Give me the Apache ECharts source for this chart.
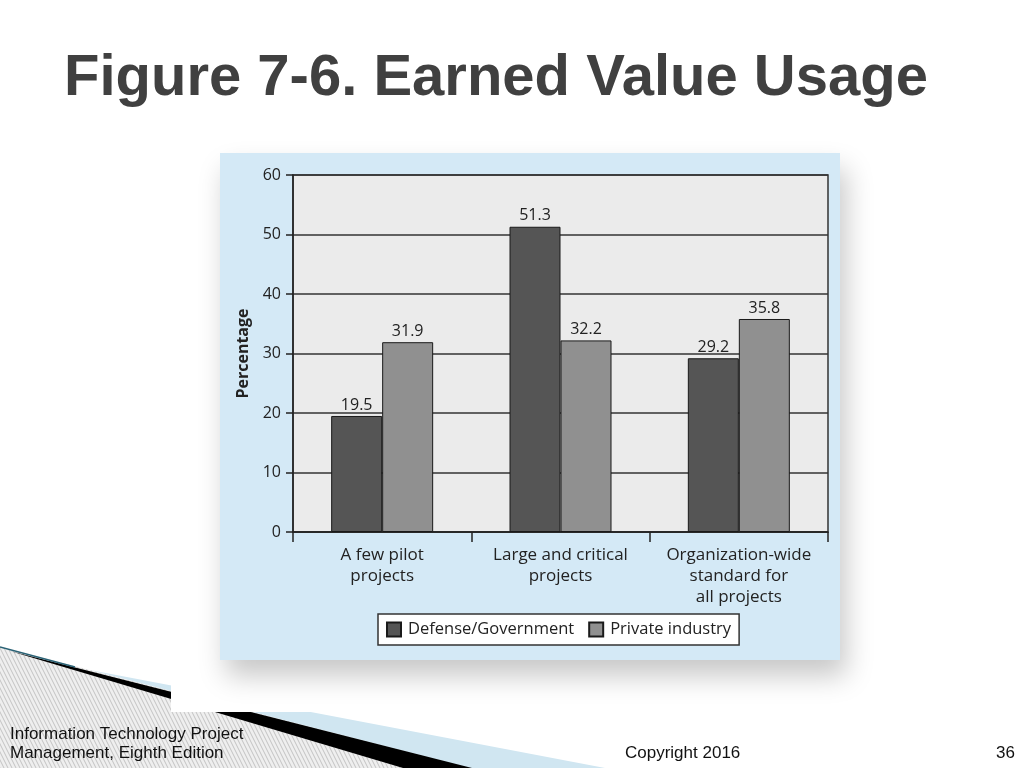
<!DOCTYPE html>
<html>
<head>
<meta charset="utf-8">
<title>Figure 7-6. Earned Value Usage</title>
<script src="https://cdn.jsdelivr.net/npm/echarts@6/dist/echarts.min.js"></script>
<style>
  html, body { margin: 0; padding: 0; background: #fff; }
  #chart { width: 1024px; height: 768px; }
</style>
</head>
<body>
<div id="chart"></div>
<script>
// 数据
var categories = ['A few pilot\nprojects', 'Large and critical\nprojects', 'Organization-wide\nstandard for\nall projects'];
var defenseGov = [19.5, 51.3, 29.2];
var privateIndustry = [31.9, 32.2, 35.8];
var seriesNames = ['Defense/Government', 'Private industry'];
var yTicks = { min: 0, max: 60, interval: 10 };

var chartFont = '"Open Sans", "Noto Sans", sans-serif';
var slideFont = '"Liberation Sans", Arial, sans-serif';

//斜线底纹
function hatch() {
	var c = document.createElement('canvas');
	c.width = 4; c.height = 8;
	var ctx = c.getContext('2d');
	ctx.fillStyle = '#efefef';
	ctx.fillRect(0, 0, 4, 8);
	ctx.strokeStyle = '#bdbdbd';
	ctx.lineWidth = 0.9;
	ctx.beginPath();
	ctx.moveTo(0, 0); ctx.lineTo(4, 8);
	ctx.moveTo(-4, 0); ctx.lineTo(0, 8);
	ctx.moveTo(4, 0); ctx.lineTo(8, 8);
	ctx.stroke();
	return c;
}

var chart = echarts.init(document.getElementById('chart'));

chart.setOption({
	animation: false,
	backgroundColor: '#ffffff',
	title: {
		text: 'Figure 7-6. Earned Value Usage',
		left: 59,
		top: 45,
		textStyle: { fontFamily: slideFont, fontSize: 58, fontWeight: 'bold', color: '#404040' }
	},
	graphic: [
		//左下角装饰
		{ type: 'polygon', z: -10, shape: { points: [[0, 647], [472, 768], [0, 768]] },
			style: { fill: { image: hatch(), repeat: 'repeat' } } },
		{ type: 'polygon', z: -9, shape: { points: [[90, 670], [605, 768], [470, 768]] },
			style: { fill: '#d0e6f1' } },
		{ type: 'polygon', z: -8, shape: { points: [[10, 651], [472, 768], [403, 768]] },
			style: { fill: '#000' } },
		{ type: 'polyline', z: -7, shape: { points: [[0, 647], [75, 667]] },
			style: { stroke: '#2a6275', lineWidth: 1.5 } },
		//图片白底
		{ type: 'rect', z: -6, shape: { x: 171, y: 140, width: 700, height: 572 },
			style: { fill: '#fff' } },
		//蓝色面板
		{ type: 'rect', z: -5, shape: { x: 220, y: 153, width: 620, height: 507 },
			style: { fill: '#d4e9f6', shadowBlur: 26, shadowOffsetY: 16, shadowOffsetX: 6, shadowColor: 'rgba(0,0,0,0.22)' } },
		//页脚
		{ type: 'text', left: 10, top: 725, style: { text: 'Information Technology Project\nManagement, Eighth Edition',
			font: '17px ' + slideFont, fill: '#111', lineHeight: 19 } },
		{ type: 'text', left: 625, top: 745, style: { text: 'Copyright 2016', font: '17px ' + slideFont, fill: '#111' } },
		{ type: 'text', right: 9, top: 745, style: { text: '36', font: '17px ' + slideFont, fill: '#111' } }
	],
	grid: {
		left: 293, top: 175, right: 196, bottom: 236,
		show: true, backgroundColor: '#ebebeb', borderColor: '#333', borderWidth: 1.5
	},
	legend: {
		data: seriesNames,
		left: 378, top: 614,
		backgroundColor: '#fff', borderColor: '#333', borderWidth: 1.5, borderRadius: 0,
		padding: [7, 8],
		itemWidth: 14, itemHeight: 14, itemGap: 14,
		icon: 'rect',
		textStyle: { fontFamily: chartFont, fontSize: 16.5, color: '#222', padding: [0, 0, 0, 2] }
	},
	xAxis: {
		type: 'category',
		data: categories,
		axisLine: { lineStyle: { color: '#222', width: 1.5 } },
		axisTick: { show: true, length: 10, interval: 0, lineStyle: { color: '#222', width: 1.5 } },
		axisLabel: { interval: 0, margin: 13, fontFamily: chartFont, fontSize: 17, lineHeight: 21, color: '#222' }
	},
	yAxis: {
		type: 'value',
		min: yTicks.min, max: yTicks.max, interval: yTicks.interval,
		name: 'Percentage',
		nameLocation: 'middle', nameRotate: 90, nameGap: 41,
		nameTextStyle: { fontFamily: chartFont, fontSize: 16, fontWeight: 'bold', color: '#222' },
		axisLine: { show: true, lineStyle: { color: '#222', width: 1.5 } },
		axisTick: { show: true, length: 7, lineStyle: { color: '#222', width: 1.5 } },
		axisLabel: { margin: 12, fontFamily: chartFont, fontSize: 16, color: '#222' },
		splitLine: { lineStyle: { color: '#333', width: 1.5 } }
	},
	series: [
		{
			name: seriesNames[0], type: 'bar', data: defenseGov,
			barWidth: 51, barGap: '0%',
			itemStyle: { color: '#555555', borderColor: '#1a1a1a', borderWidth: 1 },
			label: { show: true, position: 'top', distance: 3, fontFamily: chartFont, fontSize: 16, color: '#222' }
		},
		{
			name: seriesNames[1], type: 'bar', data: privateIndustry,
			barWidth: 51, barGap: '0%',
			itemStyle: { color: '#909090', borderColor: '#1a1a1a', borderWidth: 1 },
			label: { show: true, position: 'top', distance: 3, fontFamily: chartFont, fontSize: 16, color: '#222' }
		}
	]
});
</script>
</body>
</html>
